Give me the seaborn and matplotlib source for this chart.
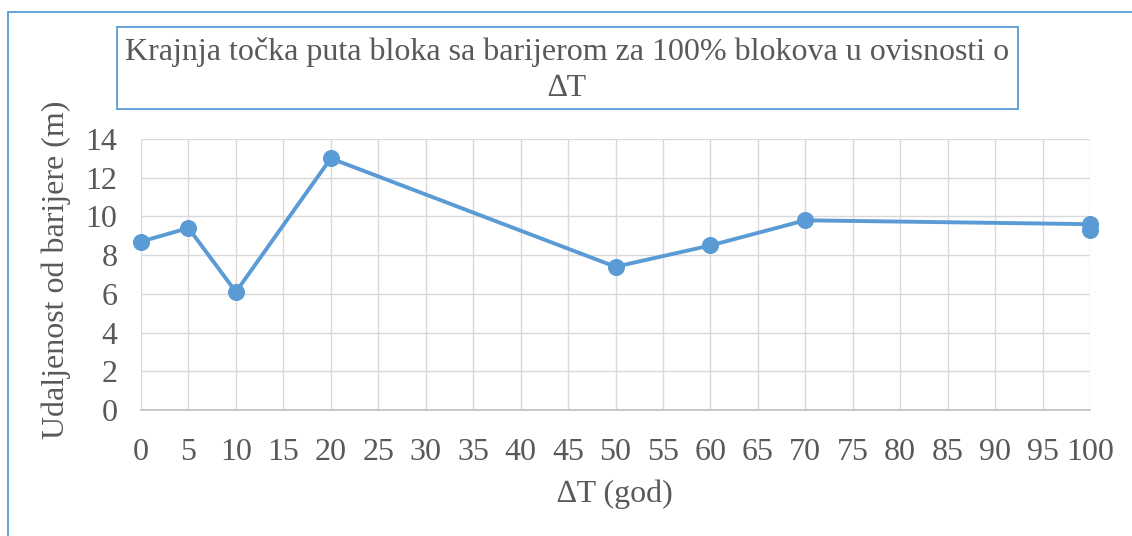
import matplotlib
matplotlib.use("Agg")
import matplotlib.pyplot as plt
from matplotlib.patches import Rectangle
from matplotlib.lines import Line2D
import seaborn as sns
import pandas as pd

# Series: end point distance from barrier vs. time step
delta_t = [0, 5, 10, 20, 50, 60, 70, 100, 100]
distance = [8.7, 9.4, 6.1, 13.0, 7.4, 8.5, 9.8, 9.6, 9.3]
x_ticks = list(range(0, 101, 5))
y_ticks = list(range(0, 15, 2))

title_text = "Krajnja točka puta bloka sa barijerom za 100% blokova u ovisnosti o\n∆T"
x_label = "∆T (god)"
y_label = "Udaljenost od barijere (m)"

sns.set_theme(style="white")
plt.rcParams["font.family"] = ["Liberation Serif", "DejaVu Serif"]

W, H = 1132, 536
FS = 23
TXT = "#595959"
fig = plt.figure(figsize=(W / 100, H / 100), dpi=100)
fig.patch.set_facecolor("white")

def fx(px):
    return px / W

def fy(py):
    return 1 - py / H

ax = fig.add_axes([fx(141), fy(410), fx(1090) - fx(141), fy(139) - fy(410)])

df = pd.DataFrame({"dt": delta_t, "dist": distance})
blue = "#5B9BD5"
sns.lineplot(data=df, x="dt", y="dist", ax=ax, estimator=None, sort=False,
             color=blue, linewidth=2.8, marker="o", markersize=11.5,
             markeredgecolor=blue, markerfacecolor=blue, clip_on=False)

ax.set_xlim(0, 100)
ax.set_ylim(0, 14)
ax.set_xticks(x_ticks)
ax.set_yticks(y_ticks)
ax.set_xticklabels([str(t) for t in x_ticks])
ax.set_yticklabels([str(t) for t in y_ticks])
ax.grid(True, color="#D9D9D9", linewidth=1.0)
ax.set_axisbelow(True)
for side in ["top", "right", "left"]:
    ax.spines[side].set_visible(False)
ax.spines["bottom"].set_color("#BFBFBF")
ax.spines["bottom"].set_linewidth(1.2)
ax.tick_params(axis="both", length=0, labelsize=FS, colors=TXT)
ax.tick_params(axis="x", pad=20)
ax.tick_params(axis="y", pad=17)
ax.set_xlabel("")
ax.set_ylabel("")

fig.text(fx(615), fy(494), x_label, ha="center", va="center", fontsize=FS, color=TXT)
fig.text(fx(56), fy(270), y_label, ha="center", va="center", rotation=90,
         fontsize=FS, color=TXT)

# Title box
fig.patches.append(Rectangle((fx(117), fy(109)), fx(1018) - fx(117), fy(27) - fy(109),
                             transform=fig.transFigure, fill=False,
                             edgecolor=blue, linewidth=1.3))
fig.text(fx(567), fy(70), title_text, ha="center", va="center", fontsize=FS,
         color=TXT, linespacing=1.3)

# Outer chart frame
fig.lines.append(Line2D([fx(8), fx(8)], [fy(12), 0], transform=fig.transFigure,
                        color=blue, linewidth=1.3))
fig.lines.append(Line2D([fx(8), 1], [fy(12), fy(12)], transform=fig.transFigure,
                        color=blue, linewidth=1.3))

fig.savefig("out.png", dpi=100, facecolor="white")
